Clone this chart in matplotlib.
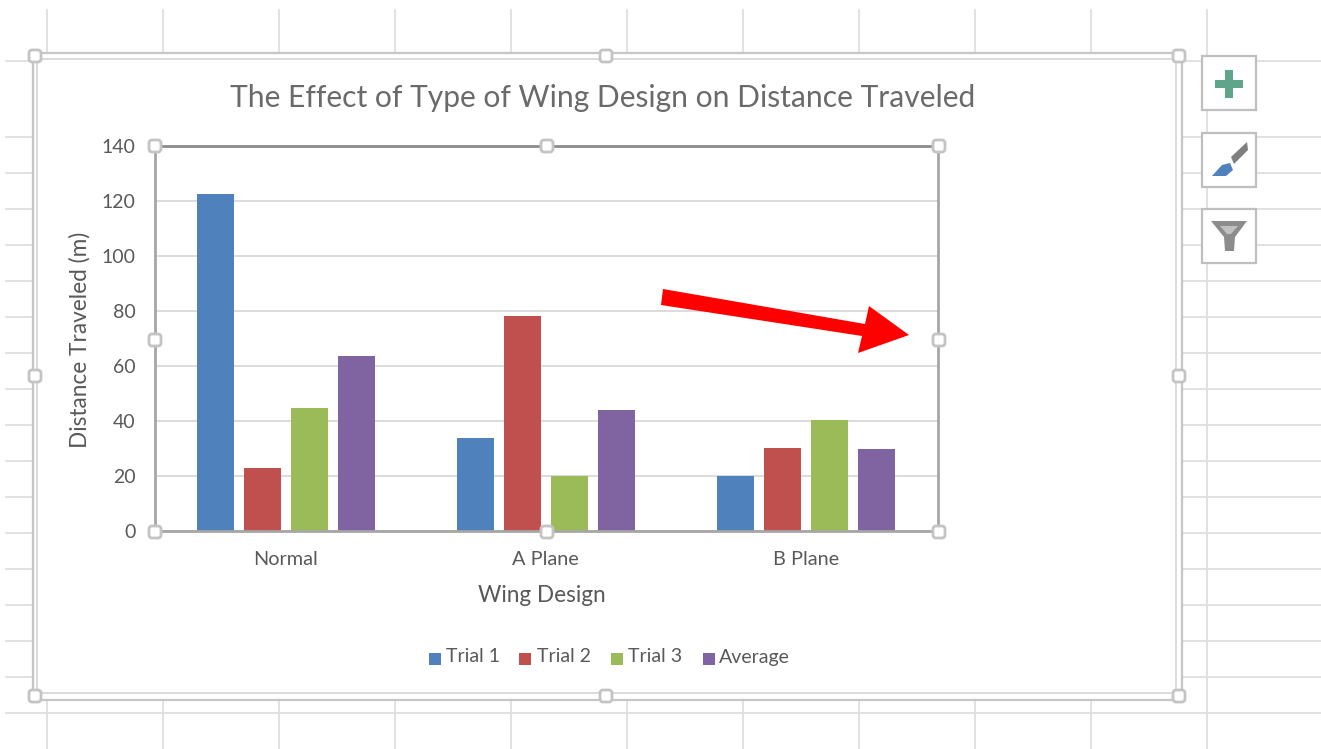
import matplotlib
matplotlib.use("Agg")
import matplotlib.pyplot as plt
from matplotlib.patches import Rectangle, FancyBboxPatch, Polygon

W, H = 1321, 749
categories = ["Normal", "A Plane", "B Plane"]
series_names = ["Trial 1", "Trial 2", "Trial 3", "Average"]
trial1 = [122.5, 33.8, 20]
trial2 = [22.8, 78.2, 30.2]
trial3 = [44.7, 20, 40.4]
average = [63.6, 44, 30]
colors = ["#4F81BD", "#C0504D", "#9BBB59", "#8064A2"]
yticks = [0, 20, 40, 60, 80, 100, 120, 140]
grid_x = [47, 163, 279, 395, 511, 627, 743, 859, 975, 1091, 1207]
grid_y = [61, 137, 173, 209, 245, 281, 317, 353, 389, 425, 461, 497, 533, 569, 605, 641, 677, 713]
TXT = '#595959'

plt.rcParams['font.family'] = ['Lato', 'DejaVu Sans']
fig = plt.figure(figsize=(W/100, H/100), dpi=100, facecolor='white')

def layer(z):
    a = fig.add_axes([0, 0, 1, 1], zorder=z)
    a.set_xlim(0, W); a.set_ylim(H, 0); a.axis('off')
    return a

sheet = layer(0)
top = layer(2)

for x in grid_x:
    sheet.plot([x, x], [10, 749], color='#DEDEDE', lw=1.3)
for y in grid_y:
    sheet.plot([6, 1321], [y, y], color='#DEDEDE', lw=1.3)

# chart area: white fill with a double frame
sheet.add_patch(Rectangle((32.5, 53), 1149.5, 647, fc='white', ec='#C6C6C6', lw=1.6, zorder=5))
sheet.add_patch(Rectangle((37, 58.5), 1139, 634.5, fc='white', ec='#DADADA', lw=1.4, zorder=5))

def handle(a, x, y, s=6):
    a.add_patch(FancyBboxPatch((x-s, y-s), 2*s, 2*s, boxstyle="round,pad=0,rounding_size=3",
                               fc='white', ec='#C4C4C4', lw=2, zorder=8))
for x, y in [(35,56),(606,56),(1179,56),(35,376),(1179,376),(35,696),(606,696),(1179,696)]:
    handle(top, x, y, 6)

top.text(603, 98, "The Effect of Type of Wing Design on Distance Traveled", ha='center', va='center',
         fontsize=21.6, color='#6A6A6A')
top.text(542, 595, "Wing Design", ha='center', va='center', fontsize=16.3, color=TXT)
top.text(80, 340, "Distance Traveled (m)", ha='center', va='center', fontsize=16.3, rotation=90, color=TXT)

# plot
ax = fig.add_axes([155/W, 1-531/H, (938-155)/W, (531-146)/H], zorder=1)
ax.patch.set_alpha(0)
ax.set_ylim(0, 140)
ax.set_xlim(-0.502, 2.509)
bar_w = 0.142
offs = [-0.271, -0.09, 0.092, 0.273]
for i, vals in enumerate([trial1, trial2, trial3, average]):
    ax.bar([k + offs[i] for k in range(3)], vals, bar_w, color=colors[i], zorder=3)
ax.set_yticks(yticks)
ax.set_xticks(range(3))
ax.set_xticklabels(categories)
ax.tick_params(axis='x', length=0, pad=14.3, labelsize=14.3, labelcolor=TXT)
ax.tick_params(axis='y', length=0, pad=14, labelsize=14, labelcolor=TXT)
ax.grid(axis='y', color='#D9D9D9', lw=1.3, zorder=0)
ax.set_axisbelow(True)
for n, s in ax.spines.items():
    s.set_color('#A6A6A6'); s.set_linewidth(2)
    s.set_zorder(4)
ax.spines['top'].set_color('#8C8C8C')

for x, y in [(155,146),(547,146),(939,146),(155,340),(939,340),(155,532),(547,532),(939,532)]:
    handle(top, x, y, 6)

# legend
lx = [435, 525, 617, 709]
tx = [446, 537, 628, 719]
for i, name in enumerate(series_names):
    top.add_patch(Rectangle((lx[i]-6, 652.5), 12, 12, fc=colors[i], ec='none', zorder=6))
    top.text(tx[i], 657, name, va='center', ha='left', fontsize=14, color=TXT, zorder=6)

# arrow
top.add_patch(Polygon([(663,289),(865,324),(869,306),(909,335),(858,353),(862,336),(661,305)],
                      fc='#FF0000', ec='none', zorder=7))

# side buttons
for y in [56, 133, 209]:
    top.add_patch(Rectangle((1202, y), 54, 54, fc='white', ec='#BFBFBF', lw=1.6, zorder=6))
top.add_patch(Rectangle((1215, 80), 28, 8, fc='#5FA58A', ec='none', zorder=7))
top.add_patch(Rectangle((1225, 70), 8, 28, fc='#5FA58A', ec='none', zorder=7))
top.add_patch(Polygon([(1231,157),(1247,142),(1248,150),(1234,164)], fc='#7F7F7F', ec='none', zorder=7))
top.add_patch(Polygon([(1212,176),(1222,165),(1230,163),(1233,170),(1226,176)], fc='#4F81BD', ec='none', zorder=7))
top.add_patch(Polygon([(1211,221),(1247,221),(1235,237),(1234,251),(1225,251),(1224,237)], fc='#8C8C8C', ec='none', zorder=7))
top.add_patch(Polygon([(1220,226),(1238,226),(1231,234),(1227,234)], fc='#C0C0C0', ec='none', zorder=8))

fig.savefig("out.png", dpi=100)
